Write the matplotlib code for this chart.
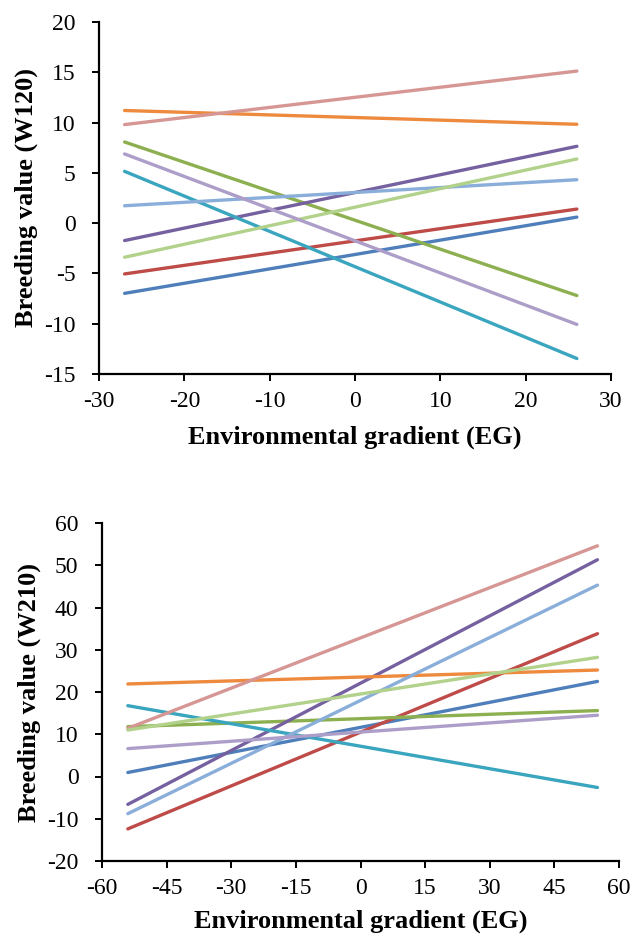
import numpy as np
import matplotlib
matplotlib.use("Agg")
import matplotlib.pyplot as plt

plt.rcParams['font.family'] = ['Liberation Serif', 'DejaVu Serif']
plt.rcParams['axes.unicode_minus'] = False

# colours of the ten lines (same order in both panels)
names = ['blue', 'red', 'green', 'purple', 'teal', 'orange',
         'lightblue', 'pink', 'lightgreen', 'lavender']
colors = ['#4F7FBA', '#BE4B48', '#8CB050', '#7560A0', '#3AA5BE', '#EE8A3E',
          '#8AAEDA', '#D69693', '#B2D28C', '#AC9EC8']

# top panel (W120): value at left / right end of the EG range
eg_top = [-27, 26]
w120_left = [-6.98, -5.05, 8.07, -1.73, 5.15, 11.2, 1.73, 9.8, -3.39, 6.88]
w120_right = [0.6, 1.4, -7.2, 7.64, -13.46, 9.83, 4.32, 15.12, 6.38, -10.07]

# bottom panel (W210)
eg_bot = [-54, 55]
w210_left = [0.95, -12.4, 11.8, -6.6, 16.76, 21.9, -8.8, 11.4, 11.0, 6.6]
w210_right = [22.5, 33.8, 15.6, 51.3, -2.6, 25.2, 45.3, 54.6, 28.2, 14.5]

W, H = 632, 939
fig = plt.figure(figsize=(W / 100, H / 100), dpi=100)


def make_ax(x0, x1, y0, y1):
    return fig.add_axes([x0 / W, 1 - y1 / H, (x1 - x0) / W, (y1 - y0) / H])


def style(ax):
    for s in ['top', 'right']:
        ax.spines[s].set_visible(False)
    for s in ['left', 'bottom']:
        ax.spines[s].set_linewidth(1.6)
    ax.tick_params(direction='out', length=5, width=1.4, labelsize=17)
    ax.tick_params(axis='y', pad=12)
    ax.tick_params(axis='x', pad=7)


ax1 = make_ax(99, 611, 22, 374)
for c, a, b in zip(colors, w120_left, w120_right):
    ax1.plot(eg_top, [a, b], color=c, lw=2.4, solid_capstyle='round')
ax1.set_xlim(-30, 30)
ax1.set_ylim(-15, 20)
ax1.set_xticks(np.arange(-30, 31, 10))
ax1.set_yticks(np.arange(-15, 21, 5))
style(ax1)
ax1.set_xlabel('Environmental gradient (EG)', fontsize=19, fontweight='bold', labelpad=10)
ax1.set_ylabel('Breeding value (W120)', fontsize=19, fontweight='bold', labelpad=4)

ax2 = make_ax(102, 619, 523, 861)
for c, a, b in zip(colors, w210_left, w210_right):
    ax2.plot(eg_bot, [a, b], color=c, lw=2.4, solid_capstyle='round')
ax2.set_xlim(-60, 60)
ax2.set_ylim(-20, 60)
ax2.set_xticks(np.arange(-60, 61, 15))
ax2.set_yticks(np.arange(-20, 61, 10))
style(ax2)
ax2.set_xlabel('Environmental gradient (EG)', fontsize=19, fontweight='bold', labelpad=8)
ax2.set_ylabel('Breeding value (W210)', fontsize=19, fontweight='bold', labelpad=4)

fig.savefig('out.png', dpi=100)
